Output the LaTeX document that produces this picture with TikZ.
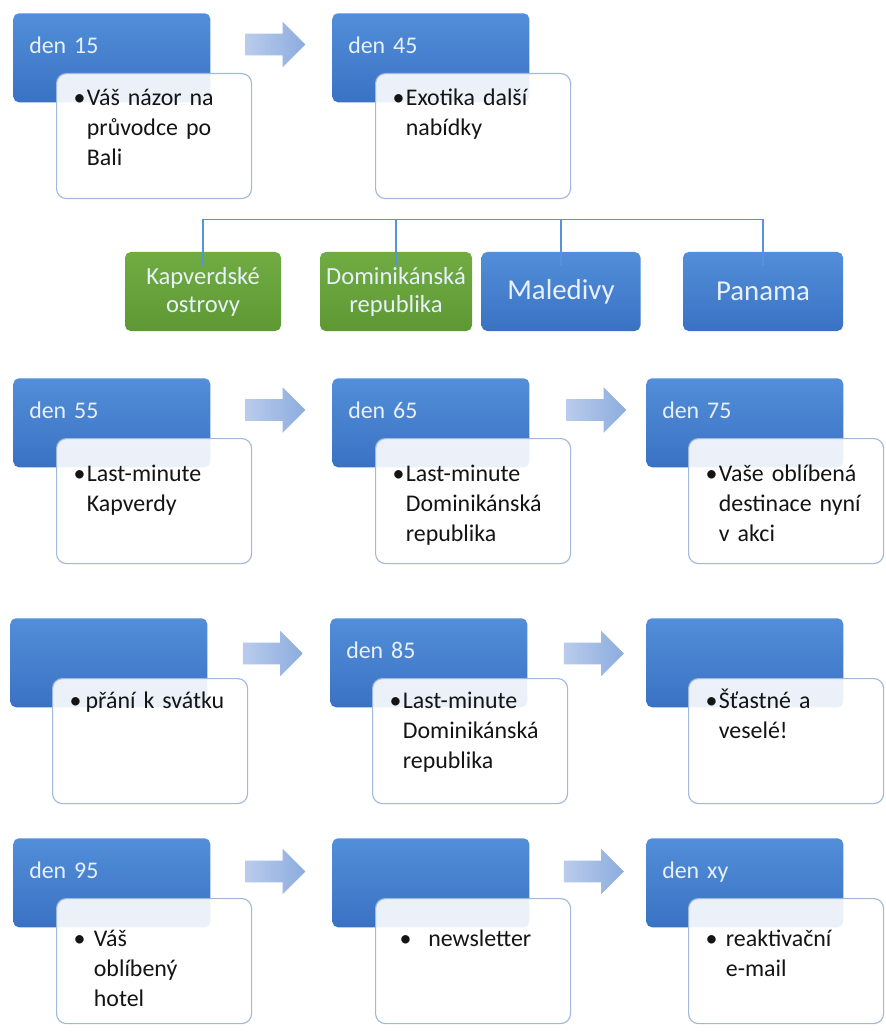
\documentclass[tikz,border=0pt]{standalone}
\usepackage{fontspec}
\setmainfont{Carlito}
\usepackage{tikz}
\usetikzlibrary{shapes.arrows}
\definecolor{headtop}{RGB}{82,142,217}
\definecolor{headbot}{RGB}{58,114,195}
\definecolor{greentop}{RGB}{112,172,66}
\definecolor{greenbot}{RGB}{94,152,52}
\definecolor{noteline}{RGB}{160,184,218}
\definecolor{arrowlight}{RGB}{186,204,236}
\definecolor{arrowdark}{RGB}{140,172,222}
\definecolor{linkblue}{RGB}{86,146,222}
\definecolor{headtext}{RGB}{232,240,250}
% bullet with hanging lines
\newcommand{\itm}[2][1pt]{\textbullet\hspace{#1}\begin{tabular}[t]{@{}l@{}}#2\end{tabular}}

\begin{document}
\begin{tikzpicture}[
  head/.style={rectangle,rounded corners=4pt,anchor=north west,
    top color=headtop,bottom color=headbot,text=headtext,
    font=\fontsize{17}{20}\selectfont,align=left,text width=4.125cm,
    inner xsep=0.4cm,inner ysep=0.3cm,text height=0.7cm,text depth=0.925cm},
  note/.style 2 args={rectangle,rounded corners=7pt,anchor=north west,
    draw=noteline,line width=0.8pt,fill=white,fill opacity=0.9,text opacity=1,
    text=black!92,font=\fontsize{17}{21.3}\selectfont,align=left,
    text width=4.025cm,inner xsep=0.425cm,inner ysep=0.2cm,
    text height=#1,text depth=#2},
  grp/.style={rectangle,rounded corners=4pt,minimum height=1.975cm,
    align=center,text=headtext,inner sep=2pt},
  green/.style={grp,top color=greentop,bottom color=greenbot,
    font=\fontsize{17.5}{20}\selectfont},
  blues/.style={grp,top color=headtop,bottom color=headbot,
    font=\fontsize{20.5}{24}\selectfont},
  arrow/.style={single arrow,single arrow head extend=0.3cm,
    single arrow head indent=0pt,minimum height=1.5cm,
    inner xsep=0pt,inner ysep=0.2625cm,text height=0pt,text depth=0pt,
    left color=arrowlight,right color=arrowdark,draw=none},
  link/.style={draw=linkblue,line width=0.8pt}
]
\useasboundingbox[fill=white] (0,0) rectangle (22.125,-25.875);

% first row
\node[head] (d15) at (0.325,-0.325) {den 15};
\node[note={0.6cm}{2.125cm}] (n15) at ([shift={(1.075,-1.5)}]d15.north west)
  {\itm{Váš názor na\\průvodce po\\Bali}};
\node[arrow] (ar1) at (6.75,-1.1125) {};
\node[head] (d45) at (8.3,-0.325) {den 45};
\node[note={0.6cm}{2.125cm}] (n45) at ([shift={(1.075,-1.5)}]d45.north west)
  {\itm{Exotika další\\nabídky}};

% destinations
\node[green,minimum width=3.9cm] (kap) at (5.075,-7.2875) {Kapverdské\\ostrovy};
\node[green,minimum width=3.8cm] (dom) at (9.9,-7.2875) {Dominikánská\\republika};
\node[blues,minimum width=3.975cm] (mal) at (14.025,-7.2875) {Maledivy};
\node[blues,minimum width=4cm] (pan) at (19.075,-7.2875) {Panama};
\draw[link] ([yshift=-0.35cm]kap.north) -- ++(0,1.15) -| ([yshift=-0.35cm]pan.north);
\draw[link] ([yshift=-0.35cm]dom.north) -- ++(0,1.15);
\draw[link] ([yshift=-0.35cm]mal.north) -- ++(0,1.15);

% second row
\node[head] (d55) at (0.325,-9.45) {den 55};
\node[note={0.875cm}{1.85cm}] (n55) at ([shift={(1.075,-1.5)}]d55.north west)
  {\itm{Last-minute\\Kapverdy}};
\node[arrow] (ar2) at (6.75,-10.25) {};
\node[head] (d65) at (8.3,-9.45) {den 65};
\node[note={0.875cm}{1.85cm}] (n65) at ([shift={(1.075,-1.5)}]d65.north west)
  {\itm{Last-minute\\Dominikánská\\republika}};
\node[arrow] (ar3) at (14.775,-10.25) {};
\node[head] (d75) at (16.15,-9.45) {den 75};
\node[note={0.875cm}{1.85cm}] (n75) at ([shift={(1.05,-1.5)}]d75.north west)
  {\itm{Vaše oblíbená\\destinace nyní\\v akci}};

% third row
\node[head] (h3a) at (0.25,-15.45) {};
\node[note={0.55cm}{2.175cm}] (n3a) at ([shift={(1.05,-1.5)}]h3a.north west)
  {\itm[3pt]{přání k svátku}};
\node[arrow] (ar4) at (6.6875,-16.3375) {};
\node[head] (d85) at (8.25,-15.45) {den 85};
\node[note={0.55cm}{2.175cm}] (n85) at ([shift={(1.05,-1.5)}]d85.north west)
  {\itm{Last-minute\\Dominikánská\\republika}};
\node[arrow] (ar5) at (14.7125,-16.3375) {};
\node[head] (h3c) at (16.15,-15.45) {};
\node[note={0.55cm}{2.175cm}] (n3c) at ([shift={(1.05,-1.5)}]h3c.north west)
  {\itm{Šťastné a\\veselé!}};

% fourth row
\node[head] (d95) at (0.325,-20.95) {den 95};
\node[note={1.0cm}{1.725cm}] (n95) at ([shift={(1.075,-1.5)}]d95.north west)
  {\itm[6pt]{Váš\\oblíbený\\hotel}};
\node[arrow] (ar6) at (6.75,-21.7875) {};
\node[head] (h4b) at (8.3,-20.95) {};
\node[note={1.0cm}{1.725cm}] (n4b) at ([shift={(1.075,-1.5)}]h4b.north west)
  {\hspace{5pt}\itm[12pt]{newsletter}};
\node[arrow] (ar7) at (14.7125,-21.7875) {};
\node[head] (dxy) at (16.15,-20.95) {den xy};
\node[note={1.0cm}{1.725cm}] (nxy) at ([shift={(1.05,-1.5)}]dxy.north west)
  {\itm[6pt]{reaktivační\\e-mail}};
\end{tikzpicture}
\end{document}
